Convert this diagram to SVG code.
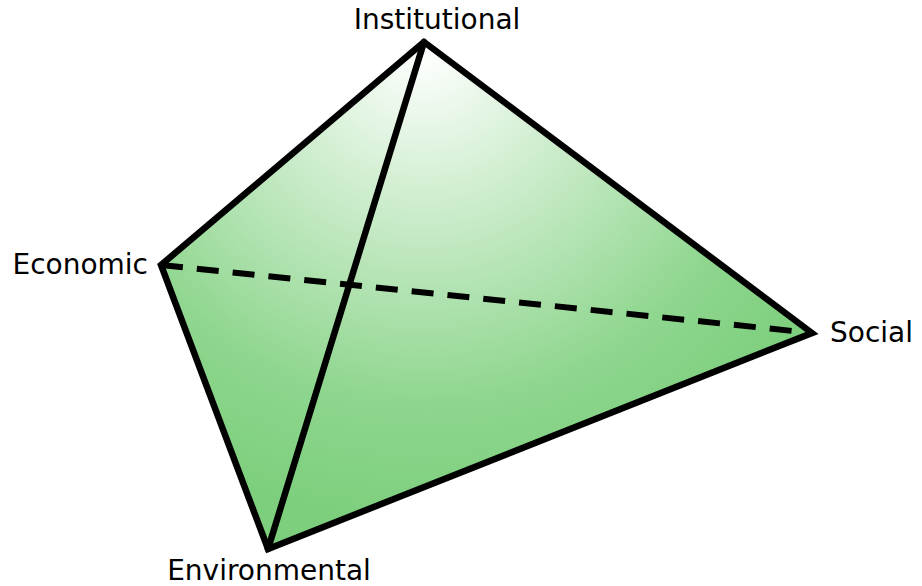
<svg xmlns="http://www.w3.org/2000/svg" width="922" height="586" viewBox="0 0 922 586">
<style>
.edge{fill:none;stroke:#000;stroke-width:6.5;stroke-linejoin:miter;stroke-linecap:round}
.dash{fill:none;stroke:#000;stroke-width:6;stroke-dasharray:22 14}
.lbl{font-family:"DejaVu Sans",Verdana,sans-serif;font-size:28px;fill:#000}
</style>
<defs>
<radialGradient id="g" gradientUnits="userSpaceOnUse" cx="424" cy="50" r="470">
<stop offset="0" stop-color="#ffffff"/>
<stop offset="0.75" stop-color="#8fd68f"/>
<stop offset="1" stop-color="#7dcf7d"/>
</radialGradient>
</defs>
<g id="body">
<polygon points="424,42 161,265 268,549 812,333" fill="url(#g)"/>
</g>
<g id="connectors">
<line class="dash" x1="161" y1="265" x2="812" y2="333"/>
<polyline class="edge" points="424,42 161,265 268,549 812,333 424,42"/>
<line class="edge" x1="424" y1="42" x2="268" y2="549"/>
</g>
<g id="institutional"><text class="lbl" x="437" y="29" text-anchor="middle">Institutional</text></g>
<g id="economic"><text class="lbl" x="148" y="274" text-anchor="end">Economic</text></g>
<g id="social"><text class="lbl" x="830" y="342">Social</text></g>
<g id="environmental"><text class="lbl" x="269" y="580" text-anchor="middle">Environmental</text></g>
</svg>
